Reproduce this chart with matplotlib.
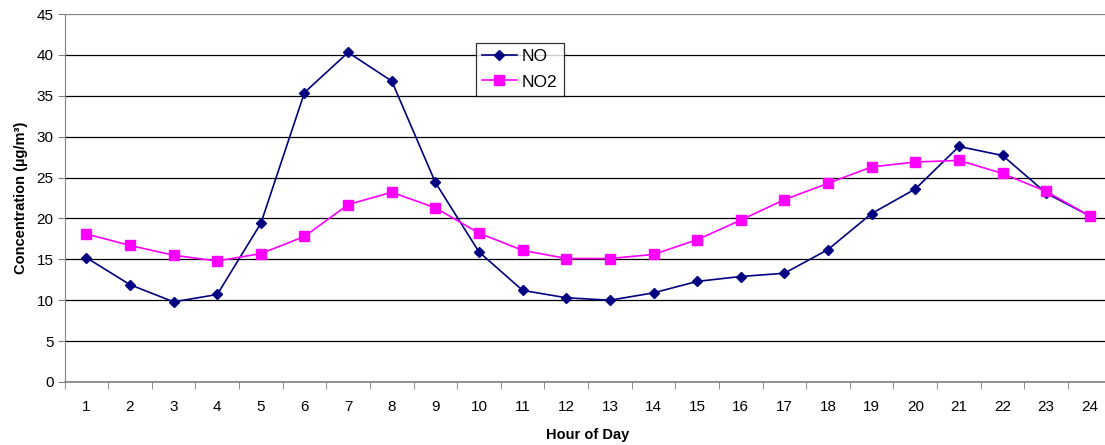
import matplotlib.pyplot as plt
import numpy as np

hours = list(range(1, 25))
no = [15.2, 11.9, 9.8, 10.7, 19.4, 35.4, 40.3, 36.8, 24.4, 15.9, 11.2, 10.3,
      10.0, 10.9, 12.3, 12.9, 13.3, 16.2, 20.6, 23.6, 28.8, 27.7, 23.1, 20.3]
no2 = [18.1, 16.7, 15.5, 14.8, 15.7, 17.8, 21.7, 23.2, 21.3, 18.2, 16.1, 15.1,
       15.1, 15.6, 17.4, 19.8, 22.3, 24.3, 26.3, 26.9, 27.1, 25.5, 23.3, 20.3]

plt.rcParams['font.family'] = ['Liberation Sans', 'DejaVu Sans']

fig = plt.figure(figsize=(11.05, 4.45), dpi=100)
ax = fig.add_axes([0.0584, 0.1416, 0.9476, 0.8269])

ax.plot(hours, no, color='#000080', marker='D', markersize=5.5, linewidth=1.2,
        label='NO', zorder=3)
ax.plot(hours, no2, color='#FF00FF', marker='s', markersize=7, linewidth=1.2,
        label='NO2', zorder=3)

ax.set_xlim(0.5, 24.5)
ax.set_ylim(0, 45)
ax.set_yticks(np.arange(0, 46, 5))
ax.set_xticks(hours)
ax.set_xticks(np.arange(0.5, 25, 1), minor=True)
ax.tick_params(axis='x', which='major', length=0, pad=13, labelsize=11)
ax.tick_params(axis='x', which='minor', length=5, color='#808080')
ax.tick_params(axis='y', length=5, color='#808080', labelsize=11, pad=3)

ax.grid(axis='y', color='black', linewidth=0.9)
ax.get_ygridlines()[-1].set_color('#808080')
ax.set_axisbelow(True)
for side in ['top', 'right']:
    ax.spines[side].set_visible(False)
ax.spines['left'].set_color('#808080')
ax.spines['bottom'].set_color('#808080')
ax.spines['bottom'].set_linewidth(1.2)

ax.set_ylabel('Concentration (µg/m³)', fontsize=10.5, fontweight='bold', labelpad=6)
ax.set_xlabel('Hour of Day', fontsize=10.5, fontweight='bold', labelpad=10)

leg = ax.legend(loc='upper left', bbox_to_anchor=(0.393, 0.922), fontsize=12.5,
                frameon=True, fancybox=False, edgecolor='black',
                borderpad=0.35, labelspacing=0.6, handlelength=2.0,
                handletextpad=0.3, borderaxespad=0)
leg.get_frame().set_linewidth(0.9)

fig.savefig('out.png', dpi=100)
